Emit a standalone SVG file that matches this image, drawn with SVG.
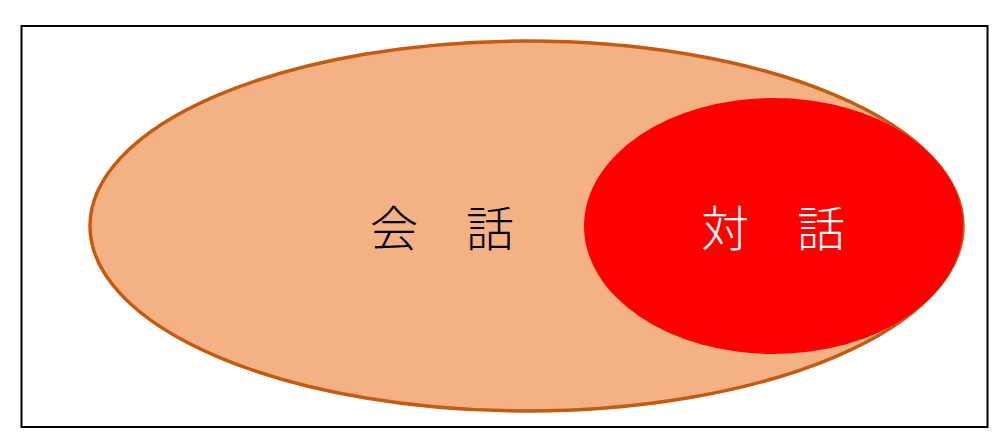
<svg xmlns="http://www.w3.org/2000/svg" width="1000" height="439" viewBox="0 0 1000 439">
<style>
.lbl{font-family:"Noto Sans CJK JP","Noto Sans CJK SC",sans-serif;font-size:48px;font-weight:300;text-anchor:middle;dominant-baseline:central}
</style>
<rect width="1000" height="439" fill="#ffffff"/>
<rect x="21.5" y="26" width="966" height="401" fill="#ffffff" stroke="#000000" stroke-width="2"/>
<g id="kaiwa">
<ellipse cx="526.5" cy="226" rx="436.5" ry="185" fill="#F4B183" stroke="#C55A11" stroke-width="3.5"/>
<text class="lbl" x="442" y="225" fill="#000000">会　話</text>
</g>
<g id="taiwa">
<ellipse cx="773.5" cy="226" rx="189.5" ry="128" fill="#FF0000"/>
<text class="lbl" x="773" y="225" fill="#ffffff">対　話</text>
</g>
<g id="connectors"></g>
</svg>
